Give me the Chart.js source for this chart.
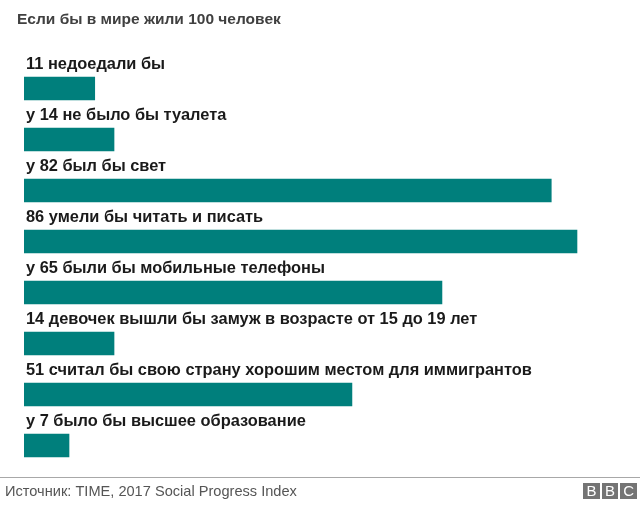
<!DOCTYPE html>
<html>
<head>
<meta charset="utf-8">
<script src="https://cdn.jsdelivr.net/npm/chart.js@4"></script>
<style>
  html, body { margin: 0; padding: 0; background: #fff; }
  #wrap { position: relative; width: 640px; height: 506px; overflow: hidden; font-family: "Liberation Sans", Arial, sans-serif; }
  #chart { position: absolute; left: 0; top: 0; }
  #title { position: absolute; left: 17px; top: 10px; font-size: 15.5px; font-weight: bold; color: #404040; white-space: nowrap; }
  #rule { position: absolute; left: 0; top: 477px; width: 640px; height: 1px; background: #a8a8a8; }
  #source { position: absolute; left: 5px; top: 483px; font-size: 14.6px; color: #555; white-space: nowrap; }
  #logo { position: absolute; left: 583px; top: 483px; display: flex; gap: 1.8px; }
  #logo span { width: 16.8px; height: 16px; background: #747474; color: #fff; font-size: 15px; line-height: 16px; text-align: center; }
</style>
</head>
<body>
<div id="wrap">
  <canvas id="chart" width="640" height="506"></canvas>
  <div id="title">Если бы в мире жили 100 человек</div>
  <div id="rule"></div>
  <div id="source">Источник: TIME, 2017 Social Progress Index</div>
  <div id="logo"><span>B</span><span>B</span><span>C</span></div>
</div>
<script>
// Labels and values
const categories = [
    '11 недоедали бы',
    'у 14 не было бы туалета',
    'у 82 был бы свет',
    '86 умели бы читать и писать',
    'у 65 были бы мобильные телефоны',
    '14 девочек вышли бы замуж в возрасте от 15 до 19 лет',
    '51 считал бы свою страну хорошим местом для иммигрантов',
    'у 7 было бы высшее образование'
];
const values = [11, 14, 82, 86, 65, 14, 51, 7];

// Draws each category label just above its bar
const barLabels = {
    id: 'barLabels',
    afterDatasetsDraw(chart) {
        const ctx = chart.ctx;
        const meta = chart.getDatasetMeta(0);
        ctx.save();
        ctx.font = 'bold 16.4px "Liberation Sans", Arial, sans-serif';
        ctx.fillStyle = '#1a1a1a';
        ctx.textBaseline = 'alphabetic';
        meta.data.forEach((bar, i) => {
            ctx.fillText(categories[i], chart.chartArea.left + 2, bar.y - 19.5);
        });
        ctx.restore();
    }
};

new Chart(document.getElementById('chart'), {
    type: 'bar',
    data: {
        labels: categories,
        datasets: [{
            data: values,
            backgroundColor: '#007f7c',
            barThickness: 23
        }]
    },
    options: {
        indexAxis: 'y',
        responsive: false,
        animation: false,
        layout: { padding: { left: 24, right: 37.3, top: 63, bottom: 35 } },
        scales: {
            x: { min: 0, max: 90, display: false },
            y: { display: false }
        },
        plugins: {
            legend: { display: false },
            tooltip: { enabled: false }
        }
    },
    plugins: [barLabels]
});
</script>
</body>
</html>
